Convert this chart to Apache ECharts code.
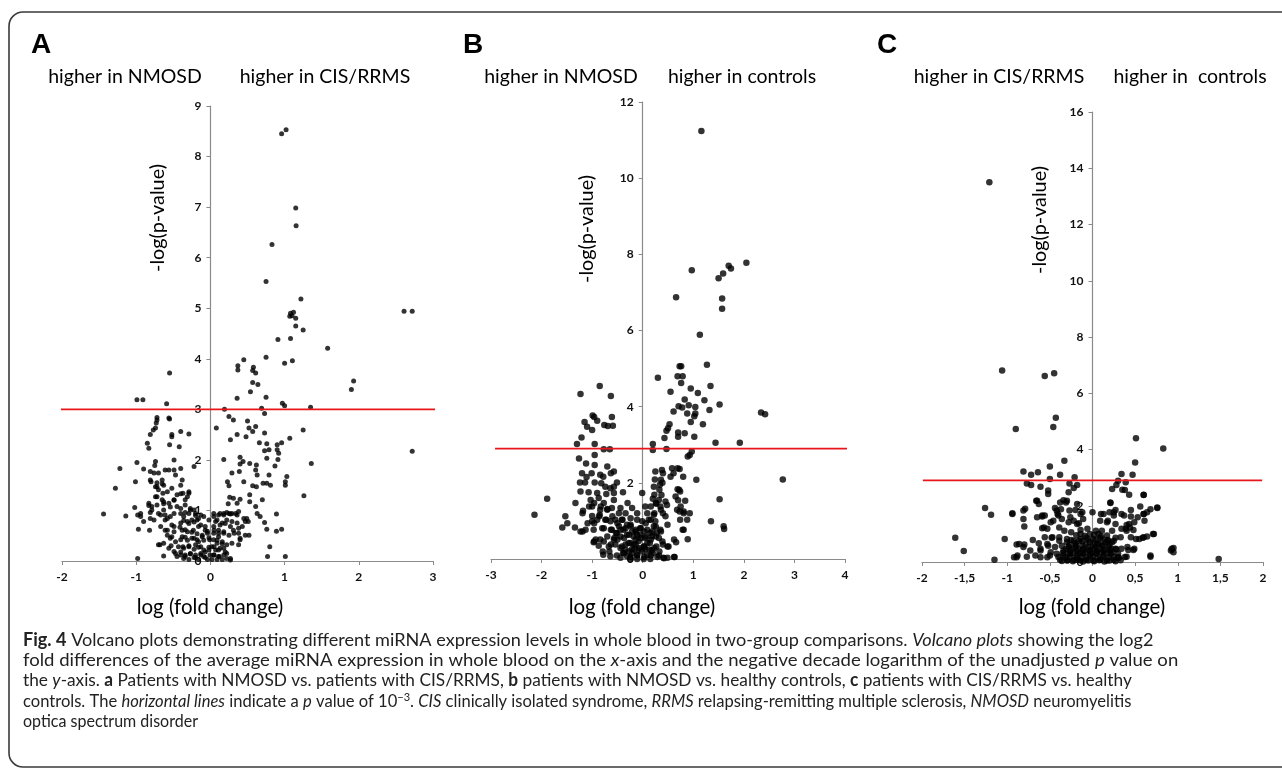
<!DOCTYPE html>
<html>
<head>
<meta charset="utf-8">
<title>Volcano plots</title>
<script src="https://cdn.jsdelivr.net/npm/echarts@6/dist/echarts.min.js"></script>
<style>
  html, body { margin: 0; padding: 0; background: #fff; }
  #chart { width: 1282px; height: 768px; }
</style>
</head>
<body>
<div id="chart"></div>
<script>
// A: NMOSD vs CIS/RRMS  [log fold change, -log p]
const volcanoA = [
  [0.96,8.45],[1.02,8.53],[1.15,6.98],[1.155,6.63],[0.83,6.26],[0.75,5.53],[1.22,5.18],
  [2.61,4.94],[2.72,4.94],[1.08,4.90],[1.12,4.92],[1.10,4.85],[1.15,4.80],[1.07,4.84],[1.15,4.65],
  [1.25,4.57],[0.91,4.38],[1.08,4.40],[1.58,4.21],[1.00,3.91],[1.105,3.96],[0.75,4.03],[0.45,3.98],
  [0.37,3.86],[0.37,3.78],[0.58,3.83],[0.57,3.77],[0.61,3.72],[-0.55,3.72],[1.93,3.56],[1.90,3.39],
  [0.57,3.53],[0.64,3.49],[0.54,3.35],[0.36,3.22],[0.75,3.24],[0.97,3.12],[1.00,3.07],[1.35,3.04],
  [-0.99,3.19],[-0.91,3.19],[-0.59,3.11],[0.19,3.0],[0.69,3.02],[0.73,2.92],[0.25,2.86],[0.31,2.79],
  [0.50,2.77],[0.52,2.63],[0.61,2.66],[0.57,2.56],[0.08,2.63],[0.36,2.50],[0.48,2.46],[0.73,2.53],
  [1.25,2.59],[0.27,2.40],[0.66,2.34],[0.76,2.32],[0.90,2.30],[0.96,2.34],[1.07,2.43],[0.79,2.20],
  [0.73,2.18],[0.90,2.20],[0.92,2.13],[2.72,2.17],[0.40,2.05],[0.18,2.01],[0.44,1.97],[0.40,1.92],
  [0.53,1.93],[0.62,1.90],[0.76,2.03],[0.91,2.01],[0.87,1.88],[1.36,1.93],[0.39,1.77],[0.61,1.80],
  [0.29,1.74],[0.63,1.70],[0.79,1.70],[1.03,1.67],[1.01,1.57],[0.45,1.57],[0.23,1.57],[0.25,1.49],
  [0.57,1.49],[0.62,1.47],[0.71,1.54],[0.76,1.54],[0.81,1.50],[1.01,1.50],[0.53,1.31],[0.26,1.26],
  [0.31,1.24],[0.40,1.22],[0.53,1.17],[0.70,1.21],[1.26,1.29],[0.24,1.13],[0.36,1.14],[0.61,1.08],
  [0.63,0.94],[0.67,0.88],[0.89,0.93],[0.13,0.94],[0.18,0.91],[0.22,0.96],[0.27,0.93],[0.34,0.94],
  [0.38,0.98],[0.49,0.84],[0.47,0.78],[0.73,0.76],[0.76,0.63],[0.89,0.59],[0.96,0.63],[0.52,0.51],
  [0.40,0.42],[0.80,0.28],[0.77,0.09],[1.01,0.09],[0.27,0.02],
  [-1.44,0.93],[-1.28,1.44],[-1.22,1.83],[-1.14,0.89],[-1.01,1.57],[-0.99,1.95],[-1.02,1.06],[-0.98,0.91],
  [-0.94,0.88],[-0.97,0.63],[-0.82,0.61],[-0.98,0.05],[-0.90,1.82],[-0.85,2.33],[-0.83,2.23],[-0.81,2.50],
  [-0.77,2.59],[-0.74,2.63],[-0.73,2.73],[-0.72,2.79],[-0.72,2.84],[-0.56,2.83],[-0.55,2.81],[-0.52,2.46],
  [-0.52,2.50],[-0.40,2.56],[-0.29,2.51],[-0.55,2.30],[-0.42,2.26],[-0.74,1.97],[-0.75,1.89],[-0.81,1.77],
  [-0.76,1.74],[-0.70,1.74],[-0.61,1.80],[-0.56,1.80],[-0.49,2.00],[-0.49,1.80],[-0.40,1.83],[-0.22,1.87],
  [-0.80,1.57],[-0.72,1.55],[-0.65,1.60],[-0.63,1.50],[-0.72,1.47],[-0.70,1.41],[-0.47,1.70],[-0.38,1.60],
  [-0.40,1.50],[-0.52,1.44],[-0.74,1.27],[-0.64,1.34],[-0.65,1.21],[-0.45,1.31],[-0.37,1.34],[-0.29,1.34],
  [-0.83,1.14],[-0.79,1.08],[-0.72,1.11],[-0.63,1.13],[-0.56,1.14],[-0.49,1.21],[-0.34,1.21],[-0.45,1.08],
  [-0.34,1.11],[-0.27,1.04],[-0.22,1.01],[-0.81,0.96],[-0.76,0.81],[-0.70,0.94],[-0.61,0.91],[-0.61,0.81],
  [-0.54,0.88],[-0.49,0.94],[-0.40,0.94],[-0.36,0.88],[-0.29,0.94],[-0.20,0.94],[-0.13,0.91],[-0.67,0.68],
  [-0.58,0.61],[-0.49,0.68],[-0.40,0.75],[-0.31,0.78],[-0.25,0.81],[-0.18,0.81],[-0.09,0.88],[-0.58,0.51],
  [-0.52,0.48],[-0.38,0.61],[-0.31,0.58],[-0.23,0.61],[-0.16,0.68],[-0.07,0.61],[-0.40,0.42],[-0.34,0.47],
  [-0.25,0.45],[-0.18,0.42],[-0.11,0.48],[-0.04,0.55],[-0.68,0.32],[-0.53,0.30],[-0.37,0.28],[-0.29,0.28],
  [-0.20,0.32],[-0.13,0.28],[-0.63,0.10],[-0.47,0.15],[-0.40,0.18],[-0.34,0.12],[-0.27,0.15],[-0.20,0.12],
  [-0.13,0.15],[-0.07,0.18],[-0.45,0.09],[-0.36,0.05],[-0.29,0.03],[-0.22,0.07],[-0.16,0.03],[-0.09,0.09],
  [-0.04,0.03],
  [0.045,0.88],[0.09,0.81],[0.045,0.68],[0.11,0.61],[0.16,0.75],[0.22,0.81],[0.29,0.78],[0.36,0.75],
  [0.43,0.68],[0.045,0.55],[0.11,0.48],[0.18,0.55],[0.25,0.51],[0.31,0.61],[0.38,0.55],[0.045,0.42],
  [0.09,0.35],[0.16,0.38],[0.22,0.32],[0.29,0.35],[0.38,0.32],[0.02,0.28],[0.07,0.22],[0.13,0.25],
  [0.20,0.18],[0.045,0.12],[0.11,0.09],[0.18,0.12],[0.22,0.05],[0.02,0.03],[0.09,0.03],[0.16,0.03],
  [-0.02,0.81],[-0.01,0.42],[-0.02,0.22],
  // denser core
  [-0.40,1.04],[-0.34,0.96],[-0.27,1.01],[-0.20,0.90],[-0.16,0.84],[-0.36,0.80],[-0.29,0.74],[-0.22,0.77],
  [-0.13,0.71],[-0.07,0.68],[-0.41,0.67],[-0.34,0.62],[-0.25,0.57],[-0.18,0.54],[-0.11,0.51],[-0.04,0.59],
  [-0.38,0.48],[-0.31,0.41],[-0.22,0.45],[-0.16,0.38],[-0.09,0.41],[-0.02,0.46],[-0.43,0.28],[-0.36,0.25],
  [-0.29,0.30],[-0.22,0.23],[-0.16,0.27],[-0.09,0.22],[-0.02,0.27],[-0.40,0.12],[-0.34,0.09],[-0.27,0.14],
  [-0.20,0.07],[-0.13,0.12],[-0.07,0.07],[-0.005,0.12],
  [0.045,0.94],[0.11,0.91],[0.18,0.94],[0.25,0.94],[0.07,0.78],[0.13,0.71],[0.20,0.74],[0.27,0.68],
  [0.05,0.61],[0.11,0.55],[0.18,0.58],[0.09,0.41],[0.16,0.34],[0.05,0.28],[0.11,0.22],[0.18,0.25],
  [0.05,0.12],[0.12,0.09],[0.22,0.15],[0.27,0.05],[0.32,0.55],[0.38,0.65],[0.40,0.45],[0.47,0.51],
  [0.51,0.78],[0.45,0.84],[0.29,0.94],[0.36,0.91],
  [-0.63,1.01],[-0.54,1.07],[-0.67,0.91],[-0.58,0.84],[-0.52,0.71],[-0.61,0.61],[-0.49,0.58],[-0.54,0.45],
  [-0.47,0.38],[-0.63,0.35],[-0.56,0.25],[-0.49,0.19],[-0.70,0.32],
  [-0.81,1.60],[-0.74,1.47],[-0.65,1.53],[-0.58,1.37],[-0.72,1.27],[-0.63,1.17],[-0.49,1.20],[-0.40,1.33],
  [-0.31,1.27],[-0.29,1.37],[-0.83,1.10],[-0.94,0.94],[-0.90,0.78],[-0.81,0.84],[-0.79,1.01]
];

// B: NMOSD vs healthy controls
const volcanoB = [
  [1.16,11.24],[0.97,7.58],[1.50,7.37],[1.59,7.50],[1.70,7.70],[1.745,7.63],[2.05,7.78],[0.66,6.87],[1.57,6.84],
  [1.57,6.57],[1.13,5.89],[1.27,5.10],[0.73,5.06],[0.76,5.06],[0.30,4.76],[0.69,4.80],[0.79,4.80],[0.76,4.62],
  [1.34,4.54],[0.95,4.48],[0.55,4.39],[1.09,4.36],[-0.85,4.54],[-1.23,4.33],[-0.63,4.28],[0.83,4.19],
  [1.22,4.17],[1.52,4.06],[0.71,4.01],[0.78,3.98],[0.91,4.04],[1.04,3.99],[1.32,3.91],[0.61,3.87],
  [0.88,3.82],[1.04,3.82],[1.02,3.75],[2.34,3.85],[2.42,3.80],[-0.99,3.77],[-0.96,3.73],[-0.61,3.73],
  [-1.15,3.60],[-0.90,3.63],[-1.10,3.47],[-1.00,3.39],[-0.76,3.52],[-0.69,3.49],[-0.59,3.50],[0.95,3.60],
  [1.19,3.54],[0.53,3.54],[0.50,3.43],[0.47,3.37],[0.43,3.18],[0.83,3.30],[0.70,3.32],[0.70,3.21],
  [1.02,3.21],[-1.21,3.19],[-1.30,3.02],[-0.95,3.02],[1.44,3.05],[1.92,3.05],[0.20,3.02],[0.20,2.86],
  [0.47,2.89],[-0.77,2.88],[-0.65,2.88],[-0.95,2.73],[0.97,2.82],[0.93,2.73],[0.89,2.69],[-1.26,2.64],
  [-1.12,2.51],[-0.95,2.47],[-0.70,2.43],[0.58,2.38],[0.69,2.38],[0.73,2.36],[0.38,2.34],[0.25,2.30],
  [0.40,2.25],[0.61,2.25],[-1.20,2.25],[-1.01,2.25],[-0.84,2.21],[-0.57,2.30],[-0.63,2.25],[-1.11,2.15],
  [-0.78,2.16],[0.55,2.16],[0.80,2.16],[1.06,2.08],[2.77,2.09],[0.24,2.09],[0.36,2.08],[-1.24,2.01],
  [-1.14,2.01],[-0.95,2.01],[-0.82,1.99],[-0.51,2.01],[-0.74,1.90],[-0.64,1.86],[-0.57,1.90],[0.34,1.95],
  [0.22,1.90],[0.69,1.83],[0.74,1.77],[-1.23,1.77],[-1.07,1.75],[-0.90,1.73],[-0.72,1.71],[-0.57,1.73],
  [-0.39,1.75],[-0.01,1.73],[0.37,1.68],[-1.89,1.58],[-1.33,1.47],[-1.03,1.55],[-0.87,1.60],[-0.77,1.47],
  [-0.57,1.55],[0.20,1.58],[0.32,1.55],[0.45,1.51],[0.70,1.54],[0.84,1.53],[1.52,1.57],[-1.18,1.27],
  [-1.00,1.38],[-0.84,1.29],[-0.70,1.31],[-0.61,1.34],[-0.44,1.34],[-0.30,1.47],[-0.21,1.34],[0.05,1.38],
  [0.16,1.38],[0.27,1.45],[0.35,1.38],[0.48,1.42],[0.68,1.29],[0.81,1.25],[0.93,1.20],[0.73,1.25],
  [-2.14,1.16],[-1.53,1.12],[-1.00,1.13],[-0.85,1.16],[-0.47,1.20],[-0.34,1.20],[-0.11,1.20],[0.09,1.20],
  [0.22,1.16],[0.40,1.20],[-1.49,0.94],[-1.59,0.83],[-1.34,0.83],[-1.00,0.99],[-0.90,1.03],[-0.74,1.03],
  [-0.64,0.99],[-0.54,1.03],[-0.41,1.03],[-0.24,1.07],[-0.11,1.03],[-0.01,0.99],[0.12,1.03],[0.25,0.99],
  [0.74,1.03],[1.35,0.99],[1.60,0.86],[1.61,0.79],[-1.23,0.72],[-1.13,0.77],[-0.97,0.77],[-0.77,0.81],
  [-0.61,0.77],[-0.47,0.86],[-0.38,0.77],[-0.24,0.86],[-0.14,0.77],[-0.05,0.81],[0.09,0.77],[0.22,0.86],
  [0.35,0.77],[0.49,0.90],[0.79,0.77],[-0.97,0.44],[-0.84,0.51],[-0.70,0.59],[-0.57,0.51],[-0.44,0.59],
  [-0.31,0.64],[-0.18,0.59],[-0.05,0.64],[0.05,0.55],[0.18,0.59],[0.32,0.55],[0.89,0.52],[0.66,0.44],
  [-0.87,0.35],[-0.67,0.33],[-0.54,0.38],[-0.41,0.33],[-0.28,0.42],[-0.14,0.38],[0.02,0.33],[0.14,0.42],
  [0.27,0.33],[0.40,0.38],[0.51,0.33],[-0.78,0.11],[-0.64,0.07],[-0.51,0.09],[-0.39,0.16],[-0.31,0.07],
  [-0.21,0.16],[-0.11,0.11],[-0.01,0.20],[0.09,0.11],[0.20,0.16],[0.32,0.09],[0.41,0.03],[0.49,0.03],
  [0.63,0.05],[-0.34,0.24],[-0.21,0.26],[-0.08,0.24],[0.05,0.26],[0.18,0.23],[-0.24,0.0],[-0.11,0.0],
  [0.02,0.0],[0.15,0.0],[-0.44,0.03],[-0.08,0.47],[-0.21,0.72],[-0.51,0.68],[-0.31,0.90],[0.03,0.72],
  [0.15,0.68],[0.28,0.68],
  // denser core
  [-0.96,1.47],[-0.83,1.38],[-0.70,1.29],[-0.86,1.12],[-0.72,1.03],[-0.60,1.12],[-0.50,0.94],[-0.40,1.03],
  [-0.96,0.94],[-0.80,0.81],[-0.63,0.77],[-0.53,0.68],[-0.44,0.77],[-0.34,0.81],[-0.24,0.90],[-0.93,0.51],
  [-0.77,0.46],[-0.63,0.38],[-0.50,0.51],[-0.37,0.55],[-0.27,0.64],[-0.14,0.72],[-0.04,0.81],[0.06,0.94],
  [0.16,1.03],[0.26,0.85],[0.36,0.72],[-0.44,0.29],[-0.34,0.38],[-0.24,0.42],[-0.14,0.51],[-0.04,0.55],
  [0.06,0.59],[0.16,0.51],[0.26,0.59],[0.39,0.46],[0.49,0.33],[-0.37,0.16],[-0.27,0.20],[-0.17,0.25],
  [-0.07,0.29],[0.03,0.33],[0.13,0.25],[0.23,0.29],[0.33,0.20],[-0.24,0.05],[-0.11,0.09],[0.03,0.05],
  [0.16,0.09],[0.29,0.05],[0.42,0.02],[0.62,0.05],[-0.17,0.38],[0.09,0.42],[-0.11,0.64],[0.19,0.72],
  [-0.56,0.55],[-0.66,0.20],[-0.79,0.20],[-0.96,0.46],[-1.19,0.72],[-1.09,0.94],[-1.19,1.20],[-1.06,1.38],
  [0.26,1.47],[0.36,1.29],[0.23,1.20],[0.45,1.12],[0.65,1.64],[0.75,1.38],[0.81,1.20],[0.88,1.03],
  [0.81,0.77],[0.62,0.51],[0.72,1.82],[0.23,1.69],[0.33,1.82],[0.39,2.0]
];

// C: CIS/RRMS vs healthy controls
const volcanoC = [
  [-1.21,13.50],[-1.06,6.81],[-0.56,6.61],[-0.45,6.71],[-0.43,5.13],[-0.46,4.80],[-0.90,4.73],[0.51,4.40],
  [0.83,4.04],[0.50,3.54],[-0.33,3.60],[-0.50,3.40],[-0.81,3.22],[-0.64,3.19],[-0.72,3.10],[-0.38,3.10],
  [-0.50,2.95],[-0.21,3.01],[0.34,3.13],[0.47,3.10],[0.30,2.89],[0.39,2.84],[-0.77,2.79],[-0.72,2.74],
  [-0.61,2.68],[-0.27,2.79],[-0.18,2.74],[-0.22,2.63],[0.28,2.74],[0.23,2.60],[0.35,2.57],[0.38,2.56],
  [-0.52,2.54],[-0.52,2.42],[-0.28,2.48],[0.43,2.39],[0.60,2.38],[-0.66,2.18],[-0.63,2.06],[-0.38,2.12],
  [-0.30,2.18],[-0.34,2.20],[0.21,2.10],[-1.26,1.92],[-1.19,1.68],[-0.79,1.89],[-0.81,1.83],[-0.44,1.92],
  [-0.42,1.83],[-0.27,1.83],[-0.20,1.85],[0.76,1.92],[0.56,1.97],[0.45,1.85],[0.27,1.85],[-0.94,1.73],
  [-0.65,1.59],[-0.59,1.62],[-0.56,1.65],[-0.40,1.65],[-0.36,1.53],[-0.14,1.71],[-0.11,1.53],[0.0,1.77],
  [0.13,1.71],[0.20,1.77],[0.25,1.65],[0.34,1.71],[0.45,1.62],[0.60,1.71],[0.64,1.77],[0.53,1.59],
  [0.61,1.47],[-0.46,1.47],[-0.28,1.41],[-0.22,1.47],[-0.16,1.38],[0.09,1.47],[0.17,1.41],[0.27,1.35],
  [0.40,1.32],[0.44,1.23],[0.48,1.14],[-0.80,1.26],[-0.59,1.20],[-0.53,1.18],[-0.39,1.23],[-0.33,1.11],
  [-0.25,1.06],[-0.14,1.14],[0.04,1.11],[0.11,1.11],[0.23,1.11],[0.34,1.18],[0.40,1.11],[-1.61,0.86],
  [-1.03,0.82],[-0.70,0.78],[-0.63,0.67],[-0.56,0.88],[-0.48,0.86],[-0.39,0.88],[-0.30,0.82],[-0.22,0.76],
  [-0.14,0.82],[-0.07,0.86],[0.01,0.82],[0.09,0.86],[0.18,0.78],[0.27,0.86],[0.51,0.82],[0.59,0.86],
  [0.64,0.91],[0.71,1.00],[-0.89,0.62],[-0.81,0.53],[-0.80,0.62],[-0.61,0.47],[-0.52,0.58],[-0.44,0.53],
  [-0.36,0.58],[-0.28,0.53],[-0.20,0.55],[-0.12,0.58],[-0.05,0.53],[0.03,0.55],[0.11,0.58],[0.19,0.53],
  [0.27,0.47],[0.34,0.47],[0.42,0.43],[0.48,0.43],[-1.51,0.39],[-0.92,0.17],[-0.89,0.17],[-0.77,0.19],
  [-0.61,0.17],[-0.50,0.23],[-0.42,0.29],[-0.34,0.23],[-0.26,0.29],[-0.18,0.23],[-0.11,0.29],[-0.03,0.23],
  [0.05,0.29],[0.13,0.23],[0.21,0.29],[0.30,0.17],[0.40,0.19],[0.68,0.19],[0.92,0.41],[0.95,0.50],
  [-1.15,0.08],[1.48,0.11],[-0.38,0.08],[-0.30,0.05],[-0.22,0.08],[-0.14,0.05],[-0.07,0.08],[0.01,0.05],
  [0.09,0.08],[0.17,0.05],[0.25,0.08],[-0.34,0.41],[-0.26,0.41],[-0.18,0.39],[-0.11,0.41],[-0.03,0.39],
  [0.05,0.41],[0.13,0.39],[0.21,0.41],[-0.30,0.70],[-0.20,0.67],[-0.12,0.74],[-0.03,0.70],[0.06,0.67],
  [0.15,0.70],[0.23,0.70],[-0.14,1.00],[-0.03,1.00],[0.07,1.00],[0.17,0.94],[-0.53,0.17],
  // denser core
  [-0.36,0.04],[-0.29,0.06],[-0.23,0.03],[-0.17,0.07],[-0.11,0.02],[-0.05,0.05],[0.02,0.03],[0.08,0.06],
  [0.14,0.02],[0.20,0.05],[0.27,0.03],[0.33,0.06],
  [-0.40,0.18],[-0.32,0.16],[-0.26,0.19],[-0.19,0.15],[-0.13,0.18],[-0.07,0.16],[0.0,0.19],[0.06,0.15],
  [0.12,0.18],[0.19,0.16],[0.25,0.19],[0.31,0.15],[0.38,0.18],
  [-0.35,0.32],[-0.28,0.30],[-0.22,0.33],[-0.15,0.31],[-0.09,0.34],[-0.02,0.30],[0.04,0.32],[0.10,0.35],
  [0.17,0.31],[0.23,0.33],[0.30,0.30],
  [-0.31,0.46],[-0.24,0.48],[-0.17,0.45],[-0.11,0.47],[-0.04,0.44],[0.02,0.48],[0.09,0.46],[0.15,0.44],
  [0.22,0.47],[0.28,0.45],
  [-0.27,0.62],[-0.19,0.60],[-0.08,0.63],[0.0,0.61],[0.07,0.64],[0.13,0.60],[0.20,0.62],
  [-0.25,0.78],[-0.16,0.76],[-0.05,0.79],[0.04,0.77],[0.12,0.80],[0.18,0.76],
  [-0.19,0.95],[-0.09,0.93],[0.02,0.96],[0.10,0.92],
  [-0.81,1.53],[-0.65,2.18],[-0.59,1.65],[-0.57,1.23],[-0.49,1.41],[-0.41,1.71],[-0.37,1.88],[-0.31,2.12],
  [-0.18,2.06],[-0.12,1.77],[-0.26,1.59],[-0.18,1.35],[-0.06,1.18],[-0.47,0.88],[-0.39,0.76],[-0.53,0.64],
  [-0.61,0.41],[-0.73,0.41],[-0.86,0.64],[-0.88,0.23],[-0.67,0.23],[-0.49,0.35],[-0.94,1.71],
  [0.21,2.12],[0.10,1.71],[0.18,1.47],[0.25,1.77],[0.37,1.65],[0.43,1.35],[0.39,1.18],[0.49,1.41],
  [0.60,1.71],[0.68,1.88],[0.76,1.94],[0.60,2.39],[0.45,0.88],[0.55,0.82],[0.60,0.88],[0.72,1.00],
  [0.25,0.76],[0.33,0.88],[0.41,0.53],[0.49,0.47],[0.68,0.23],[0.93,0.47],[0.95,0.35]
];

// horizontal threshold lines (x from, x to, y)
const thresholdA = [[-2.07, 3.0], [3.13, 3.0]];
const thresholdB = [[-2.92, 2.9], [4.15, 2.9]];
const thresholdC = [[-1.99, 2.9], [1.99, 2.9]];

const headersA = ['higher in NMOSD', 'higher in CIS/RRMS'];
const headersB = ['higher in NMOSD', 'higher in controls'];
const headersC = ['higher in CIS/RRMS', 'higher in  controls'];

const chart = echarts.init(document.getElementById('chart'));

const FONT = 'Lato, "Open Sans", sans-serif';
const axisColor = '#8a8a8a';

function xAxisOf(idx, min, max, interval, comma) {
    return {
        gridIndex: idx, type: 'value', min: min, max: max, interval: interval,
        axisLine: {onZero: false, lineStyle: {color: axisColor, width: 1.2}},
        axisTick: {show: true, length: 4, lineStyle: {color: axisColor}},
        splitLine: {show: false},
        axisLabel: {
            color: '#111', fontWeight: 'bold', fontSize: 12, fontFamily: FONT, margin: 10,
            formatter: v => comma ? String(v).replace('.', ',') : String(v)
        }
    };
}

// y axis sits on x = 0: shift it in from the grid's left edge
function yAxisOf(idx, max, interval, shift) {
    return {
        gridIndex: idx, type: 'value', min: 0, max: max, interval: interval, offset: -shift,
        axisLine: {show: true, onZero: false, lineStyle: {color: axisColor, width: 1.2}},
        axisTick: {show: true, length: 4, lineStyle: {color: axisColor}},
        splitLine: {show: false},
        axisLabel: {color: '#111', fontWeight: 'bold', fontSize: 12, fontFamily: FONT, margin: 9}
    };
}

function dots(idx, data, size) {
    return {
        type: 'scatter', xAxisIndex: idx, yAxisIndex: idx, data: data,
        symbolSize: size, itemStyle: {color: '#000'}, silent: true, z: 3
    };
}

function redLine(idx, data) {
    return {
        type: 'line', xAxisIndex: idx, yAxisIndex: idx, data: data, clip: false,
        symbol: 'none', silent: true, z: 4,
        lineStyle: {color: '#e8161b', width: 1.8}
    };
}

function txt(x, y, text, size, extra) {
    return {
        type: 'text', x: x, y: y, silent: true,
        style: Object.assign({
            text: text, fill: '#000', fontSize: size, fontFamily: FONT,
            textAlign: 'center', textVerticalAlign: 'middle'
        }, extra || {})
    };
}

function letter(x, text) {
    return txt(x, 45, text, 28, {fontFamily: 'Arial, "Liberation Sans", sans-serif', fontWeight: 'bold', textAlign: 'left'});
}

function yName(x, y) {
    return Object.assign(txt(x, y, '-log(p-value)', 19.8), {rotation: Math.PI / 2});
}

// caption text, one entry per printed line
const capRich = {
    b: {fontWeight: 'bold', fontSize: 18, fontFamily: FONT, fill: '#222'},
    i: {fontStyle: 'italic', fontSize: 18, fontFamily: FONT, fill: '#222'},
    sup: {fontSize: 12, fontFamily: FONT, fill: '#222', verticalAlign: 'top', padding: [0, 0, 7, 0]}
};
const captionLines = [
    '{b|Fig. 4} Volcano plots demonstrating different miRNA expression levels in whole blood in two-group comparisons. {i|Volcano plots} showing the log2',
    'fold differences of the average miRNA expression in whole blood on the {i|x}-axis and the negative decade logarithm of the unadjusted {i|p} value on',
    'the {i|y}-axis. {b|a} Patients with NMOSD vs. patients with CIS/RRMS, {b|b} patients with NMOSD vs. healthy controls, {b|c} patients with CIS/RRMS vs. healthy',
    'controls. The {i|horizontal lines} indicate a {i|p} value of 10{sup|−3}. {i|CIS} clinically isolated syndrome, {i|RRMS} relapsing-remitting multiple sclerosis, {i|NMOSD} neuromyelitis',
    'optica spectrum disorder'
];
// horizontal squeeze per line so the line ends match the printed caption
const captionScale = [1.005, 1.03, 0.959, 0.92, 0.89];

const graphics = [
    {
        type: 'rect', silent: true,
        shape: {x: 9, y: 12, width: 1300, height: 755, r: [14, 0, 0, 14]},
        style: {fill: 'none', stroke: '#3a3a3a', lineWidth: 1.6}
    },
    letter(31, 'A'), letter(463, 'B'), letter(877, 'C'),
    txt(125, 77, headersA[0], 19.5), txt(325, 77, headersA[1], 19.5),
    txt(561, 77, headersB[0], 19.5), txt(742, 77, headersB[1], 19.5),
    txt(999, 77, headersC[0], 19.5), txt(1190, 77, headersC[1], 19.5),
    yName(158, 218), yName(587, 229), yName(1040, 220),
    txt(210, 607, 'log (fold change)', 20.5), txt(642, 607, 'log (fold change)', 20.5), txt(1092, 607, 'log (fold change)', 20.5)
];
captionLines.forEach((line, i) => {
    graphics.push({
        type: 'text', x: 23, y: 640 + i * 20.3, scaleX: captionScale[i], silent: true,
        style: {
            text: line, rich: capRich, fill: '#222', fontSize: 18, fontFamily: FONT,
            textAlign: 'left', textVerticalAlign: 'middle'
        }
    });
});

const option = {
    backgroundColor: '#fff',
    animation: false,
    grid: [
        {left: 62, top: 106, width: 371, height: 455},
        {left: 491, top: 102, width: 354, height: 457},
        {left: 922, top: 112, width: 341, height: 450}
    ],
    xAxis: [xAxisOf(0, -2, 3, 1), xAxisOf(1, -3, 4, 1), xAxisOf(2, -2, 2, 0.5, true)],
    yAxis: [yAxisOf(0, 9, 1, 148.4), yAxisOf(1, 12, 2, 151.7), yAxisOf(2, 16, 2, 170.5)],
    series: [
        dots(0, volcanoA, 5), redLine(0, thresholdA),
        dots(1, volcanoB, 6.5), redLine(1, thresholdB),
        dots(2, volcanoC, 6.5), redLine(2, thresholdC)
    ],
    graphic: graphics
};

chart.setOption(option);
</script>
</body>
</html>
